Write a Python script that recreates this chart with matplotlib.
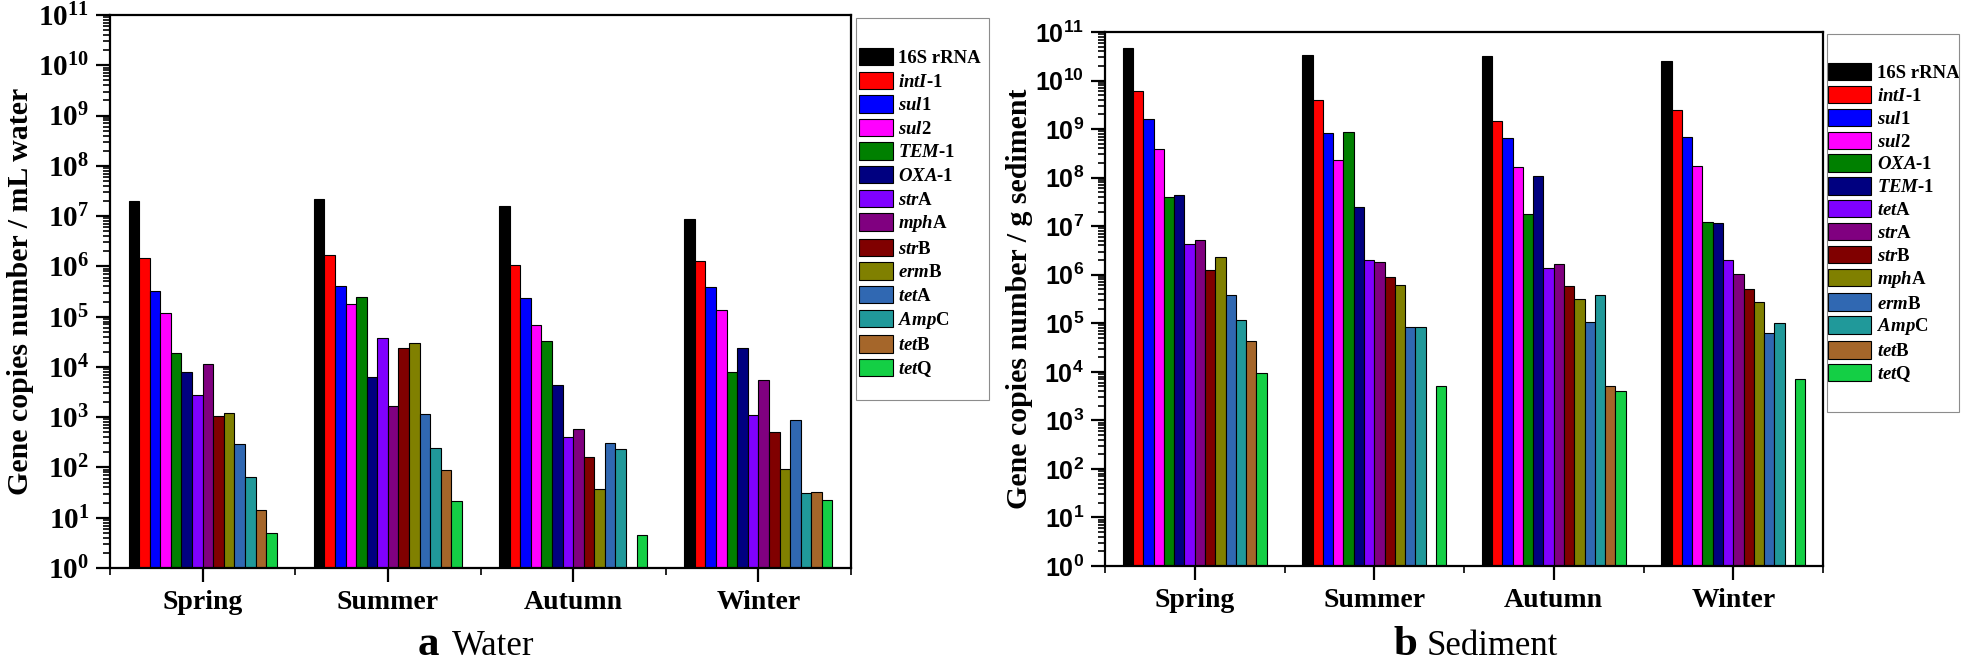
import numpy as np
import matplotlib
matplotlib.use('Agg')
import matplotlib.pyplot as plt
from matplotlib.patches import Rectangle
from matplotlib.ticker import LogLocator, NullFormatter, FixedLocator
from matplotlib.font_manager import FontProperties

plt.rcParams['font.family'] = 'Liberation Serif'
plt.rcParams['mathtext.fontset'] = 'custom'
plt.rcParams['mathtext.rm'] = 'Liberation Serif:bold'
plt.rcParams['mathtext.it'] = 'Liberation Serif:italic:bold'
plt.rcParams['mathtext.bf'] = 'Liberation Serif:bold'

seasons = ['Spring', 'Summer', 'Autumn', 'Winter']
nan = np.nan

# water panel (a), gene copies / mL
water_genes = ['16S rRNA', '$intI$-1', '$sul$1', '$sul$2', '$TEM$-1', '$OXA$-1', '$str$A',
               '$mph$A', '$str$B', '$erm$B', '$tet$A', '$Amp$C', '$tet$B', '$tet$Q']
water_spring = [2.0e7, 1.45e6, 3.3e5, 1.2e5, 1.9e4, 8.1e3, 2.7e3, 1.15e4, 1.07e3, 1.2e3, 288, 65, 14.2, 5.0]
water_summer = [2.15e7, 1.66e6, 4.1e5, 1.8e5, 2.5e5, 6.4e3, 3.8e4, 1.65e3, 2.34e4, 3.0e4, 1.18e3, 241, 90, 22]
water_autumn = [1.6e7, 1.05e6, 2.3e5, 6.7e4, 3.3e4, 4.3e3, 408, 590, 164, 37.6, 304, 232, nan, 4.6]
water_winter = [8.8e6, 1.27e6, 3.8e5, 1.36e5, 8.1e3, 2.34e4, 1.1e3, 5.5e3, 514, 93, 880, 31.6, 33, 22.7]

# sediment panel (b), gene copies / g
sed_genes = ['16S rRNA', '$intI$-1', '$sul$1', '$sul$2', '$OXA$-1', '$TEM$-1', '$tet$A',
             '$str$A', '$str$B', '$mph$A', '$erm$B', '$Amp$C', '$tet$B', '$tet$Q']
sed_spring = [4.7e10, 6.0e9, 1.65e9, 3.9e8, 4.0e7, 4.4e7, 4.3e6, 5.3e6, 1.27e6, 2.3e6, 3.9e5, 1.15e5, 4.3e4, 9.4e3]
sed_summer = [3.4e10, 3.9e9, 8.5e8, 2.36e8, 8.9e8, 2.46e7, 2.05e6, 1.86e6, 8.9e5, 6.2e5, 8.5e4, 8.2e4, nan, 5.0e3]
sed_autumn = [3.2e10, 1.5e9, 6.6e8, 1.69e8, 1.8e7, 1.1e8, 1.4e6, 1.7e6, 5.9e5, 3.1e5, 1.08e5, 3.9e5, 5.0e3, 4.1e3]
sed_winter = [2.5e10, 2.46e9, 6.9e8, 1.75e8, 1.2e7, 1.15e7, 2.0e6, 1.02e6, 5.05e5, 2.77e5, 6.4e4, 1.0e5, nan, 7.1e3]

colors = ['#000000', '#FF0000', '#0000FF', '#FF00FF', '#008000', '#000080', '#8000FF',
          '#800080', '#800000', '#808000', '#3068B2', '#20999A', '#A5662A', '#14CF45']

W, H = 1961, 662
fig = plt.figure(figsize=(W / 100, H / 100), dpi=100)


def px(x0, y0, x1, y1):
    # pixel box (top-left origin) -> figure rect
    return [x0 / W, 1 - y1 / H, (x1 - x0) / W, (y1 - y0) / H]


def draw_panel(rect, data, genes, ylabel, tickfont, leg_xy, frame, hlen, ylab_x, lspace):
    ax = fig.add_axes(rect)
    n = len(genes)
    bw = 0.80 / n
    x = np.arange(len(seasons))
    for i in range(n):
        vals = np.array([d[i] for d in data], dtype=float)
        ok = ~np.isnan(vals)
        ax.bar(x[ok] + (i - (n - 1) / 2) * bw, vals[ok] - 1, bw, bottom=1,
               color=colors[i], edgecolor='black', linewidth=0.8, label=genes[i])
    ax.set_yscale('log')
    ax.set_ylim(1, 1e11)
    ax.set_xlim(-0.5, 3.5)
    ax.yaxis.set_major_locator(LogLocator(base=10, numticks=20))
    ax.yaxis.set_minor_locator(LogLocator(base=10, subs=np.arange(2, 10), numticks=20))
    ax.yaxis.set_minor_formatter(NullFormatter())
    ax.set_xticks(x)
    ax.set_xticklabels(seasons, fontsize=20, fontweight='bold', family='Liberation Serif')
    ax.xaxis.set_minor_locator(FixedLocator([-0.5, 0.5, 1.5, 2.5, 3.5]))
    ax.tick_params(axis='both', which='major', direction='out', length=10, width=1.6,
                   top=False, right=False)
    ax.tick_params(axis='both', which='minor', direction='out', length=5, width=1.2,
                   top=False, right=False)
    ax.tick_params(axis='x', which='major', pad=6)
    ax.tick_params(axis='y', which='major', pad=5)
    for lab in ax.get_yticklabels():
        lab.set_fontproperties(tickfont)
    for sp in ax.spines.values():
        sp.set_linewidth(1.6)
    ax.set_ylabel(ylabel, fontsize=21.5, fontweight='bold')
    ax.yaxis.set_label_coords(ylab_x, 0.5)

    fig.patches.append(Rectangle((frame[0] / W, 1 - frame[3] / H), (frame[2] - frame[0]) / W,
                                 (frame[3] - frame[1]) / H, transform=fig.transFigure,
                                 fill=False, edgecolor='#8c8c8c', linewidth=0.8))
    ax.legend(loc='upper left', bbox_to_anchor=(leg_xy[0] / W, 1 - leg_xy[1] / H),
              bbox_transform=fig.transFigure, frameon=False, borderpad=0, borderaxespad=0,
              prop={'family': 'Liberation Serif', 'weight': 'bold', 'size': 13.5},
              handlelength=hlen, handleheight=1.05, labelspacing=lspace, handletextpad=0.3)
    return ax


serif_tick = FontProperties(family='Liberation Serif', weight='bold', size=21)
sans_tick = FontProperties(family='Liberation Sans', weight='bold', size=18)

water = [water_spring, water_summer, water_autumn, water_winter]
sed = [sed_spring, sed_summer, sed_autumn, sed_winter]

draw_panel(px(110, 15, 851, 568), water, water_genes, 'Gene copies number / mL water',
           serif_tick, (859, 48), (856, 18, 989, 400), 1.8, -0.102, 0.24)
draw_panel(px(1105, 32, 1823, 566), sed, sed_genes, 'Gene copies number / g sediment',
           sans_tick, (1828, 63), (1827, 34, 1959, 412), 2.3, -0.10, 0.2)

# panel captions
fig.text(418 / W, 1 - 655 / H, 'a', fontsize=31, fontweight='bold', va='baseline')
fig.text(452 / W, 1 - 655 / H, 'Water', fontsize=25, va='baseline')
fig.text(1393 / W, 1 - 655 / H, 'b', fontsize=31, fontweight='bold', va='baseline')
fig.text(1427 / W, 1 - 655 / H, 'Sediment', fontsize=25, va='baseline')

fig.savefig('out.png', dpi=100)
